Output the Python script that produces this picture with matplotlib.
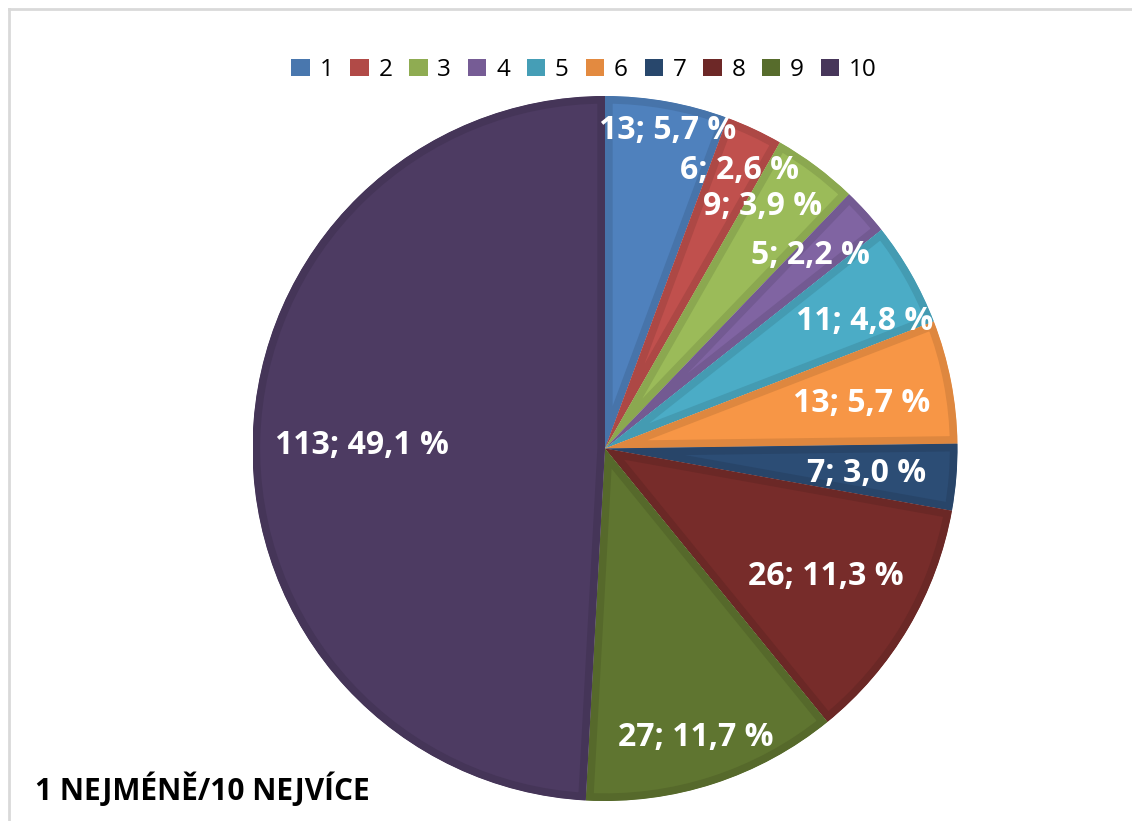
import numpy as np
import matplotlib
matplotlib.use("Agg")
import matplotlib.pyplot as plt
import matplotlib.colors as mcolors

# data
categories = ["1", "2", "3", "4", "5", "6", "7", "8", "9", "10"]
counts = [13, 6, 9, 5, 11, 13, 7, 26, 27, 113]
colors = ["#4F81BD", "#C0504D", "#9BBB59", "#8064A2", "#4BACC6",
          "#F79646", "#2C4D75", "#772C2A", "#5F7530", "#4D3B62"]
caption = "1 NEJMÉNĚ/10 NEJVÍCE"

# label placement (Excel-like inside end): radius fraction and angle nudge in degrees
label_r = [0.92, 0.875, 0.82, 0.80, 0.82, 0.74, 0.745, 0.725, 0.86, 0.69]
label_dang = [-1, -0.8, 3.7, 1.0, -3.7, -1, -0.7, 0.5, -0.5, 0.8]

plt.rcParams['font.family'] = ['Open Sans', 'DejaVu Sans']

W, H = 1132, 821
fig = plt.figure(figsize=(W / 100, H / 100), dpi=100)

cx, cy, R = 605, 448.5, 352.5
ax = fig.add_axes([(cx - R) / W, (H - cy - R) / H, 2 * R / W, 2 * R / H])
ax.axis('off')


def darker(c, f=0.9):
    r, g, b = mcolors.to_rgb(c)
    return (r * f, g * f, b * f)


wedges, _ = ax.pie(counts, colors=colors, startangle=90, counterclock=False,
                   radius=1.0, center=(0, 0))
ax.set_xlim(-1, 1)
ax.set_ylim(-1, 1)
ax.set_aspect('equal')

# darker inner band on each slice: thick edge clipped to the slice itself
for w, c in zip(wedges, colors):
    w.set_edgecolor(darker(c))
    w.set_linewidth(11)
    w.set_clip_on(True)
    w.set_clip_path(w.get_path(), w.get_transform())

total = sum(counts)
for w, n, d, da in zip(wedges, counts, label_r, label_dang):
    ang = np.deg2rad((w.theta1 + w.theta2) / 2 + da)
    pct = f"{100 * n / total:.1f}".replace(".", ",")
    ax.text(d * np.cos(ang), d * np.sin(ang), f"{n}; {pct} %",
            ha='center', va='center', color='white', fontsize=23,
            fontweight='bold')

# legend
handles = [plt.Rectangle((0, 0), 1, 1, facecolor=darker(c, 0.92), edgecolor='none')
           for c in colors]
fig.legend(handles, categories, loc='center', bbox_to_anchor=(0.516, 1 - 70 / H),
           ncol=10, frameon=False, fontsize=17.5, handlelength=0.75,
           handleheight=0.75, handletextpad=0.4, columnspacing=0.7)

fig.text(35 / W, 1 - 790 / H, caption, fontsize=21.5, fontweight='bold',
         ha='left', va='center', color='black')

# light grey chart-area border
fig.add_artist(plt.Line2D([8.5 / W, 8.5 / W], [0, 1 - 9.5 / H],
                          transform=fig.transFigure, color='#D9D9D9', lw=2))
fig.add_artist(plt.Line2D([8.5 / W, 1], [1 - 9.5 / H, 1 - 9.5 / H],
                          transform=fig.transFigure, color='#D9D9D9', lw=2))

fig.savefig("out.png", dpi=100)
